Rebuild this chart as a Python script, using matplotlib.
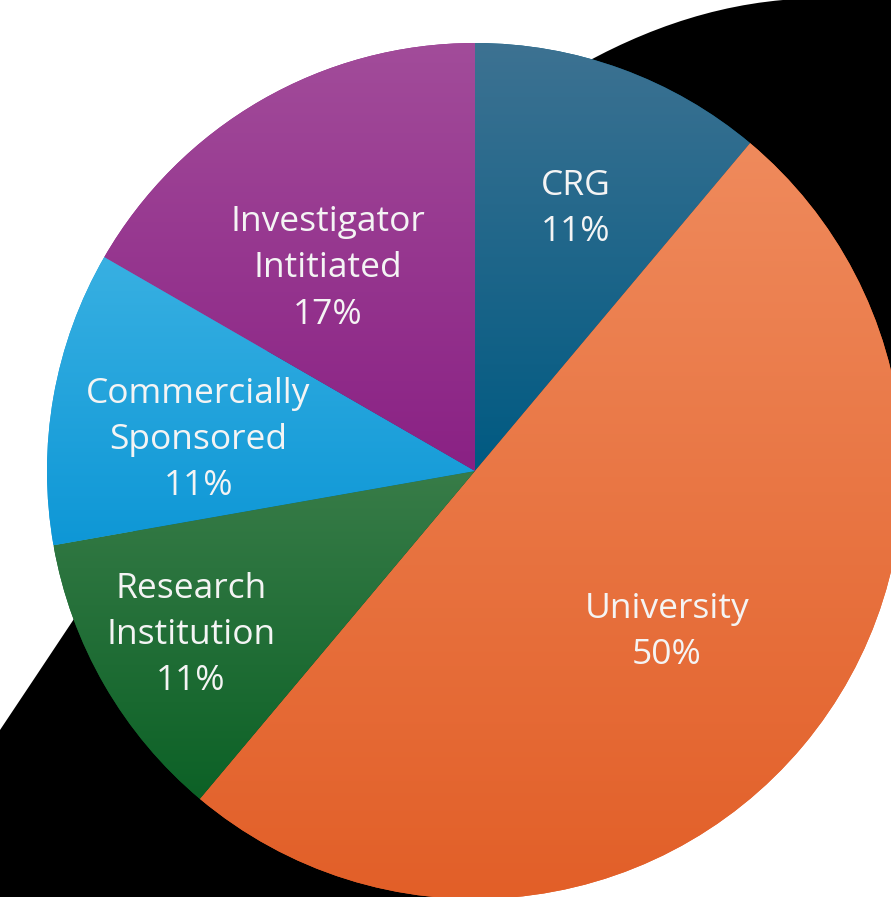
import numpy as np
import matplotlib.pyplot as plt
from matplotlib.path import Path
from matplotlib.patches import PathPatch
from matplotlib.colors import LinearSegmentedColormap

W, H = 891, 897

categories = ['CRG', 'University', 'Research\nInstitution', 'Commercially\nSponsored', 'Investigator\nIntitiated']
counts = [2, 9, 2, 2, 3]
top_colors = ['#3d7292', '#ef8a5c', '#387c48', '#38b0e2', '#a24c9a']
bottom_colors = ['#005a82', '#e25f28', '#0c6126', '#0e97d6', '#8a2184']

# label placement: fraction of radius and small angle nudge (deg)
label_r = [0.655, 0.585, 0.766, 0.65, 0.585]
label_nudge = [-1, 0, 0, 3.6, 6]


def flip(y):
    # picture y (from top) -> data y (from bottom)
    return H - y


fig = plt.figure(figsize=(W / 100, H / 100), dpi=100)
ax = fig.add_axes([0, 0, 1, 1])

# black swoosh behind the pie
verts = [(0, flip(730)), (180, flip(462)), (440, flip(30)), (783, flip(0)),
         (W, flip(0)), (W, flip(470)), (475, flip(471)), (475, flip(H)),
         (0, flip(H)), (0, flip(730))]
codes = [Path.MOVETO, Path.CURVE4, Path.CURVE4, Path.CURVE4,
         Path.LINETO, Path.LINETO, Path.LINETO, Path.LINETO,
         Path.LINETO, Path.CLOSEPOLY]
ax.add_patch(PathPatch(Path(verts, codes), facecolor='black', edgecolor='none', zorder=0))

cx, cy, R = 475, flip(471), 428
wedges, _ = ax.pie(counts, center=(cx, cy), radius=R, startangle=90,
                   counterclock=False, wedgeprops=dict(linewidth=0))

grad = np.linspace(0, 1, 256).reshape(-1, 1)
for w, c_top, c_bot in zip(wedges, top_colors, bottom_colors):
    w.set_facecolor(c_bot)
    w.set_zorder(1)
    ext = w.get_path().get_extents()
    cmap = LinearSegmentedColormap.from_list('g', [c_bot, c_top])
    im = ax.imshow(grad, cmap=cmap, origin='lower', aspect='auto',
                   extent=[ext.x0, ext.x1, ext.y0, ext.y1], zorder=2)
    im.set_clip_path(w)

# labels
total = sum(counts)
start = 90
for name, c, r, nudge in zip(categories, counts, label_r, label_nudge):
    span = c / total * 360
    mid = np.deg2rad(start - span / 2 + nudge)
    start -= span
    x = cx + r * R * np.cos(mid)
    y = cy + r * R * np.sin(mid)
    ax.text(x, y, f"{name}\n{c / total * 100:.0f}%", ha='center', va='center',
            color='#f4f4f4', fontsize=25.5, linespacing=1.47, family='Open Sans', zorder=5)

ax.set_xlim(0, W)
ax.set_ylim(0, H)
ax.axis('off')

fig.savefig('out.png', dpi=100, facecolor='white')
